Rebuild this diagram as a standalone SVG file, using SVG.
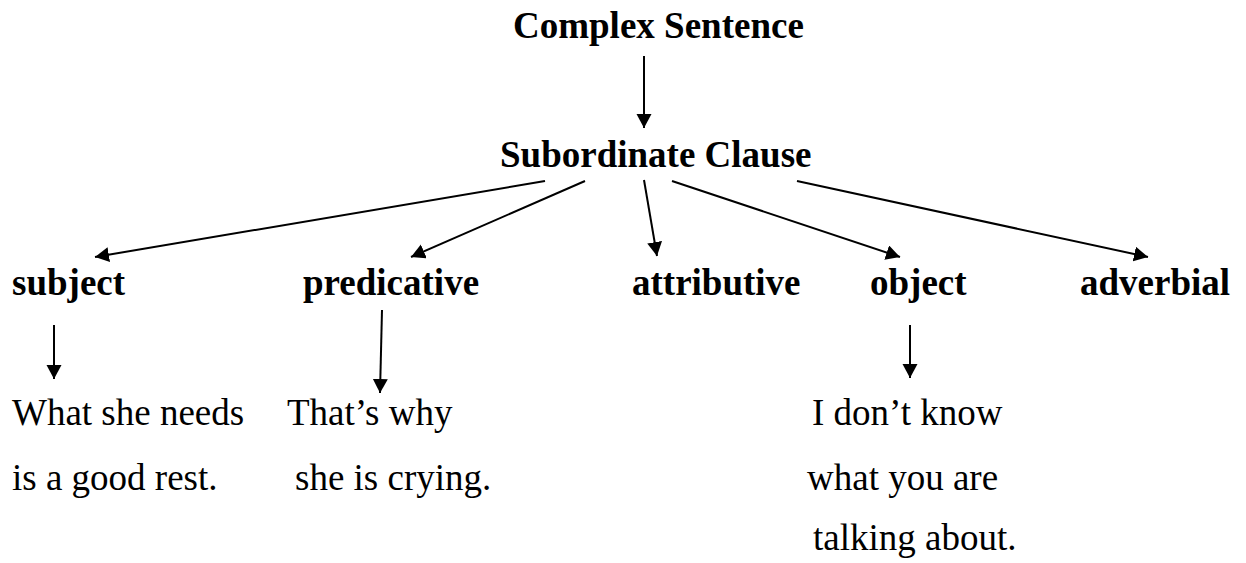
<svg xmlns="http://www.w3.org/2000/svg" width="1246" height="563" viewBox="0 0 1246 563">
  <style>
    .head { font-family: "Liberation Serif", "Times New Roman", serif; font-weight: bold; font-size: 37px; fill: #000; }
    .body { font-family: "Liberation Serif", "Times New Roman", serif; font-size: 37px; fill: #000; }
    .link { stroke: #000; stroke-width: 2; fill: none; marker-end: url(#arrow); }
  </style>
  <defs>
    <marker id="arrow" markerUnits="userSpaceOnUse" markerWidth="16" markerHeight="16" refX="14" refY="7.5" orient="auto">
      <path d="M0,0 L14,7.5 L0,15 Z" fill="#000"/>
    </marker>
  </defs>

  <rect width="1246" height="563" fill="#fff"/>

  <g id="complex-sentence"><text class="head" x="513" y="38">Complex Sentence</text></g>
  <g id="subordinate-clause"><text class="head" x="500" y="167">Subordinate Clause</text></g>

  <g id="subject"><text class="head" x="12" y="295">subject</text></g>
  <g id="predicative"><text class="head" x="303" y="295">predicative</text></g>
  <g id="attributive"><text class="head" x="632" y="295">attributive</text></g>
  <g id="object"><text class="head" x="870" y="295">object</text></g>
  <g id="adverbial"><text class="head" x="1080" y="295">adverbial</text></g>

  <g id="subject-example">
    <text class="body" x="12" y="425">What she needs</text>
    <text class="body" x="12" y="490">is a good rest.</text>
  </g>
  <g id="predicative-example">
    <text class="body" x="287" y="425">That’s why</text>
    <text class="body" x="295" y="490">she is crying.</text>
  </g>
  <g id="object-example">
    <text class="body" x="812" y="425">I don’t know</text>
    <text class="body" x="807" y="490">what you are</text>
    <text class="body" x="813" y="550">talking about.</text>
  </g>

  <g id="connectors">
    <line class="link" x1="644" y1="56" x2="644" y2="128"/>
    <line class="link" x1="545" y1="181" x2="95" y2="257"/>
    <line class="link" x1="585" y1="181" x2="411" y2="257"/>
    <line class="link" x1="644" y1="180" x2="657" y2="256"/>
    <line class="link" x1="672" y1="181" x2="900" y2="257"/>
    <line class="link" x1="797" y1="181" x2="1148" y2="257"/>
    <line class="link" x1="54" y1="325" x2="54" y2="379"/>
    <line class="link" x1="382" y1="310" x2="380" y2="393"/>
    <line class="link" x1="910" y1="325" x2="910" y2="378"/>
  </g>
</svg>
